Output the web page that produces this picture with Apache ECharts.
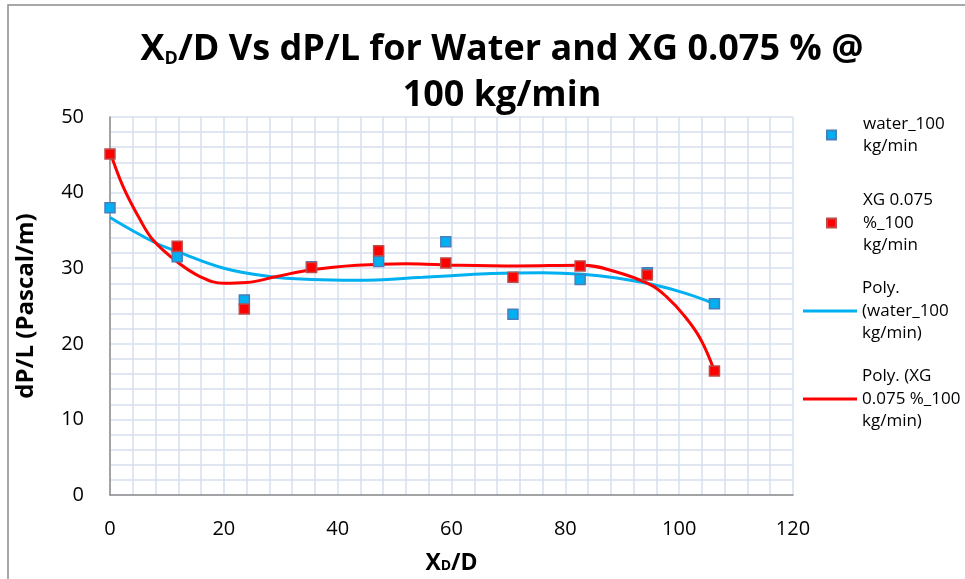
<!DOCTYPE html>
<html>
<head>
<meta charset="utf-8">
<title>XD/D Vs dP/L</title>
<script src="https://cdn.jsdelivr.net/npm/echarts@6/dist/echarts.min.js"></script>
<style>
    html, body { margin: 0; padding: 0; background: #fff; }
    #chart { width: 965px; height: 579px; }
</style>
</head>
<body>
<div id="chart"></div>
<script>
    // measured points
    var xValues = [0, 11.8, 23.6, 35.4, 47.2, 59.0, 70.8, 82.6, 94.4, 106.2];
    var waterDp = [38.0, 31.5, 25.8, 30.2, 30.9, 33.5, 23.9, 28.5, 29.4, 25.3];
    var xgDp = [45.1, 32.9, 24.6, 30.1, 32.3, 30.7, 28.8, 30.3, 29.1, 16.4];

    // trend lines
    var waterTrendX = [0, 7.6, 12.2, 20, 28, 35.4, 43.4, 55, 60, 67, 76, 83, 89, 95, 101, 106.2];
    var waterTrendY = [36.7, 33.5, 32.1, 30.0, 28.9, 28.5, 28.4, 28.8, 29.0, 29.3, 29.4, 29.2, 28.7, 27.9, 26.7, 25.3];
    var xgTrendX = [0, 2.3, 5.3, 7.6, 11.7, 15.8, 20, 24, 29.3, 35.4, 43.4, 52, 61, 71.5, 82.8, 89, 95, 97.8, 100.8, 103.7, 106.2];
    var xgTrendY = [45.4, 40.8, 36.4, 33.7, 30.9, 28.9, 28.0, 28.1, 28.9, 29.8, 30.4, 30.6, 30.4, 30.3, 30.4, 29.5, 27.8, 26.2, 23.8, 20.7, 16.4];

    var seriesNames = ['water_100 kg/min', 'XG 0.075 %_100 kg/min', 'Poly. (water_100 kg/min)', 'Poly. (XG 0.075 %_100 kg/min)'];
    var legendText = [
        'water_100\nkg/min',
        'XG 0.075\n%_100\nkg/min',
        'Poly.\n(water_100\nkg/min)',
        'Poly. (XG\n0.075 %_100\nkg/min)'
    ];
    var legendY = [135, 223, 311, 399];

    function pairs(xs, ys) {
        return xs.map(function (x, i) { return [x, ys[i]] })
    }

    var font = '"Open Sans", Lato, sans-serif';
    var lineH = 22.5;

    //图例，每项单独一个，文字第一行对齐图标
    var legends = seriesNames.map(function (name, i) {
        var lines = legendText[i].split('\n').length;
        var isLine = i >= 2;
        var w = isLine ? 54 : 9;
        var h = isLine ? 3 : 9;
        return {
            data: [{name: name, icon: 'rect'}],
            orient: 'vertical',
            left: isLine ? 803 : 826,
            top: legendY[i] - (2 * lines - 1) * lineH / 2,
            padding: 0,
            itemWidth: w,
            itemHeight: h,
            itemGap: 0,
            symbolKeepAspect: false,
            selectedMode: false,
            formatter: function () { return legendText[i] },
            textStyle: {
                fontFamily: font,
                fontSize: 17,
                color: '#000',
                lineHeight: lineH,
                padding: [(lines - 1) * lineH, 0, 0, isLine ? 0 : 22]
            }
        }
    });

    var chart = echarts.init(document.getElementById('chart'));
    chart.setOption({
        backgroundColor: '#fff',
        animation: false,
        title: {
            text: '{b|X}{s|D}{b|/D Vs dP/L for Water and XG 0.075 % @}\n{b|100 kg/min}',
            left: 497,
            top: 22,
            textAlign: 'center',
            textStyle: {
                rich: {
                    b: {fontFamily: font, fontSize: 36, fontWeight: 'bold', color: '#000', lineHeight: 46},
                    s: {fontFamily: font, fontSize: 18, fontWeight: 'bold', color: '#000', lineHeight: 46, verticalAlign: 'bottom', padding: [0, 0, 5, 0]}
                }
            }
        },
        legend: legends,
        graphic: [{
            type: 'polyline',
            shape: {points: [[8, 579], [8, 5], [965, 5]]},
            style: {stroke: '#8c8c8c', lineWidth: 1.5, fill: null},
            silent: true
        }],
        grid: {
            left: 110,
            top: 117,
            width: 683,
            height: 378,
            containLabel: false,
            outerBoundsMode: 'none'
        },
        xAxis: {
            type: 'value',
            min: 0,
            max: 120,
            interval: 20,
            name: '{b|X}{s|D}{b|/D}',
            nameLocation: 'middle',
            nameGap: 57,
            nameTextStyle: {
                rich: {
                    b: {fontFamily: font, fontSize: 23, fontWeight: 'bold', color: '#000'},
                    s: {fontFamily: font, fontSize: 14, fontWeight: 'bold', color: '#000', verticalAlign: 'bottom', padding: [0, 0, 2, 0]}
                }
            },
            axisLine: {lineStyle: {color: '#8c8c8c', width: 1.5}},
            axisTick: {show: false},
            axisLabel: {margin: 24, fontFamily: font, fontSize: 20, color: '#000'},
            splitLine: {lineStyle: {color: '#d6e0f0', width: 1.5}},
            minorTick: {show: false, splitNumber: 5},
            minorSplitLine: {show: true, lineStyle: {color: '#d6e0f0', width: 1.5}}
        },
        yAxis: {
            type: 'value',
            min: 0,
            max: 50,
            interval: 10,
            name: 'dP/L (Pascal/m)',
            nameLocation: 'middle',
            nameGap: 72,
            nameTextStyle: {fontFamily: font, fontSize: 24, fontWeight: 'bold', color: '#000'},
            axisLine: {show: true, lineStyle: {color: '#8c8c8c', width: 1.5}},
            axisTick: {show: false},
            axisLabel: {margin: 26, fontFamily: font, fontSize: 20, color: '#000'},
            splitLine: {lineStyle: {color: '#d6e0f0', width: 1.5}},
            minorTick: {show: false, splitNumber: 5},
            minorSplitLine: {show: true, lineStyle: {color: '#d6e0f0', width: 1.5}}
        },
        series: [{
            name: seriesNames[2],
            type: 'line',
            data: pairs(waterTrendX, waterTrendY),
            smooth: 0.4,
            symbol: 'none',
            lineStyle: {color: '#00b0f0', width: 3},
            itemStyle: {color: '#00b0f0'},
            z: 2
        }, {
            name: seriesNames[3],
            type: 'line',
            data: pairs(xgTrendX, xgTrendY),
            smooth: 0.4,
            symbol: 'none',
            lineStyle: {color: '#ff0000', width: 3},
            itemStyle: {color: '#ff0000'},
            z: 2
        }, {
            name: seriesNames[0],
            type: 'scatter',
            data: pairs(xValues, waterDp),
            symbol: 'rect',
            symbolSize: 10,
            itemStyle: {color: '#00b0f0', borderColor: '#4a7ebb', borderWidth: 1.5, opacity: 1},
            z: 3
        }, {
            name: seriesNames[1],
            type: 'scatter',
            data: pairs(xValues, xgDp),
            symbol: 'rect',
            symbolSize: 10,
            itemStyle: {color: '#ff0000', borderColor: '#be4b48', borderWidth: 1.5, opacity: 1},
            z: 3
        }]
    });
</script>
</body>
</html>
